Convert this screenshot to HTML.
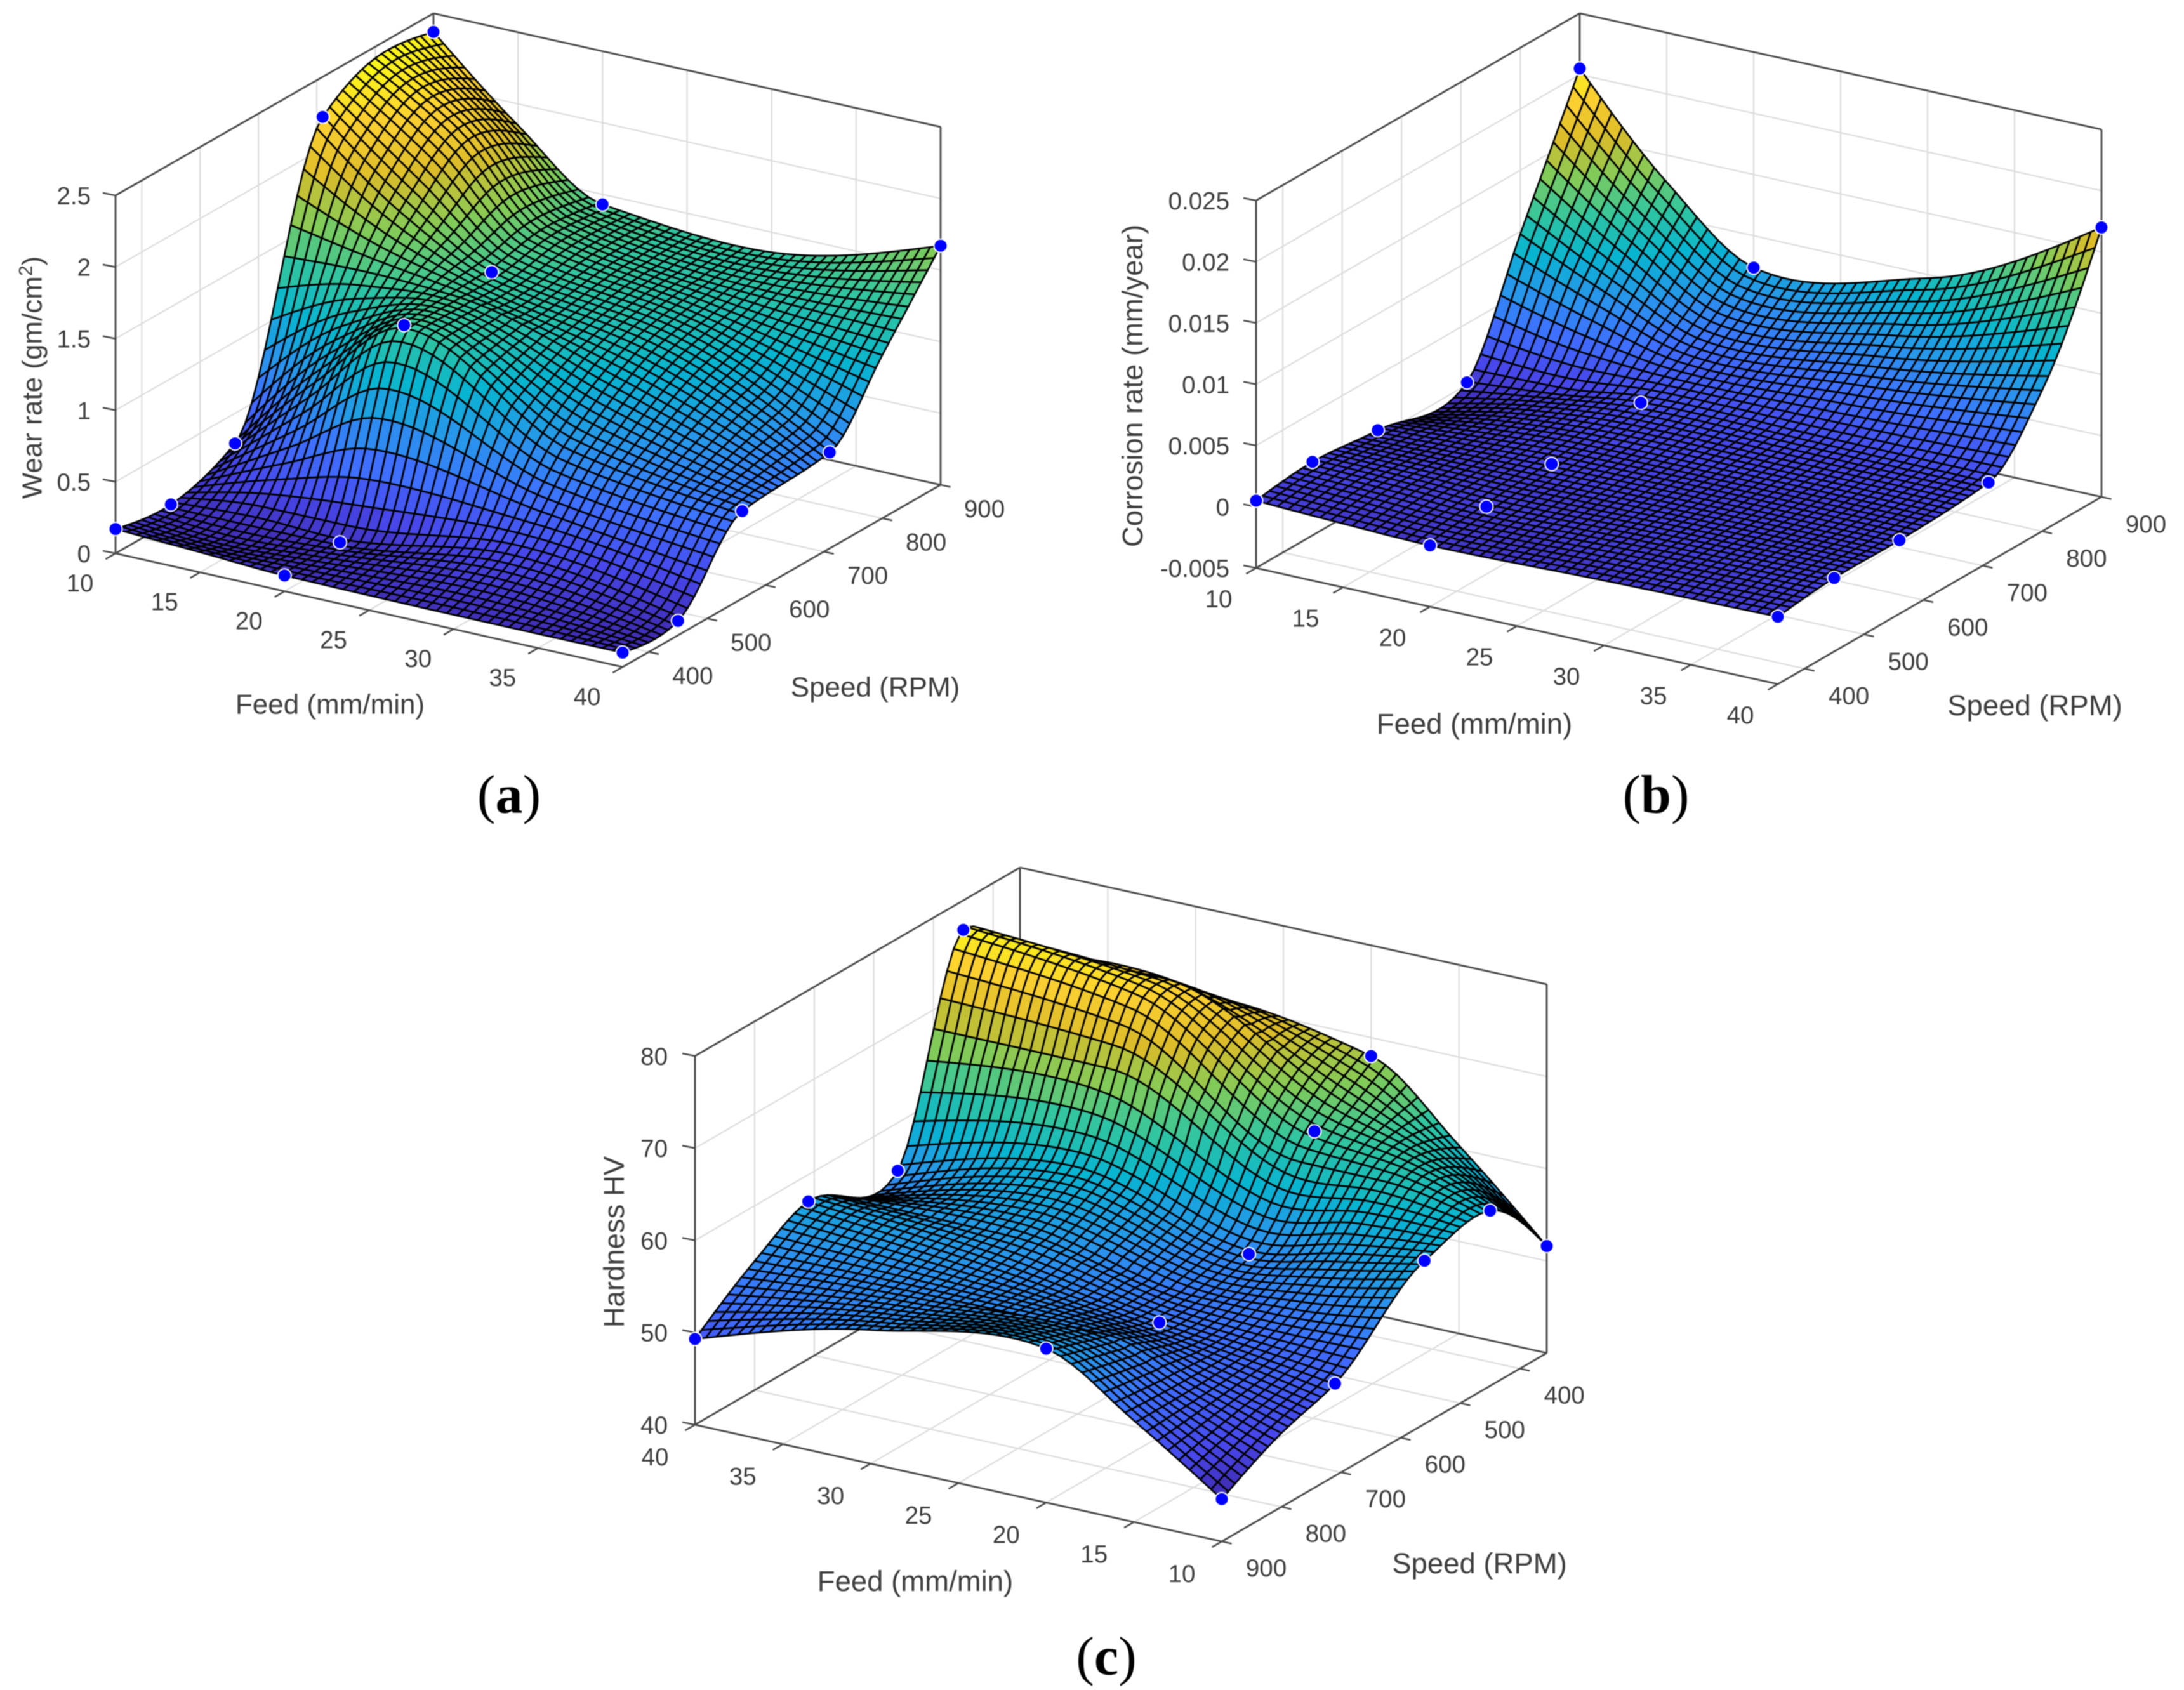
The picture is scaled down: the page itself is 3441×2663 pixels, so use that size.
<!DOCTYPE html>
<html lang="en">
<head>
<meta charset="utf-8">
<title>Wear rate, corrosion rate and hardness response surfaces</title>
<style>
html,body{margin:0;padding:0;background:#fff;}
svg{display:block;filter:blur(0.85px);}
text{font-family:"Liberation Sans",Arial,sans-serif;fill:#3d3d3d;}
.tick{font-size:38.5px;}
.axis{font-size:44px;}
.axis2{font-size:45.5px;}
.cap{font-family:"Liberation Serif","Times New Roman",serif;font-size:86px;fill:#000;}
</style>
</head>
<body>
<svg id="figure" xmlns="http://www.w3.org/2000/svg" width="3441" height="2663" viewBox="0 0 3441 2663">
  <rect x="0" y="0" width="3441" height="2663" fill="#fff"/>
  <g id="panel-a"></g>
  <g id="panel-b"></g>
  <g id="panel-c"></g>

  <text class="axis" transform="translate(50 595) rotate(-90)" text-anchor="middle" dy=".35em">Wear rate (gm/cm<tspan dy="-15" font-size="30">2</tspan><tspan dy="15">)</tspan></text>
  <text class="axis" x="520" y="1109" text-anchor="middle" dy=".35em">Feed (mm/min)</text>
  <text class="axis" x="1379" y="1082" text-anchor="middle" dy=".35em">Speed (RPM)</text>
  <text class="cap" x="802" y="1252" text-anchor="middle" dy=".33em">(<tspan font-weight="700">a</tspan>)</text>

  <text class="axis2" transform="translate(1784 608) rotate(-90)" text-anchor="middle" dy=".35em">Corrosion rate (mm/year)</text>
  <text class="axis2" x="2323" y="1140" text-anchor="middle" dy=".35em">Feed (mm/min)</text>
  <text class="axis2" x="3206" y="1111" text-anchor="middle" dy=".35em">Speed (RPM)</text>
  <text class="cap" x="2609" y="1252" text-anchor="middle" dy=".33em">(<tspan font-weight="700">b</tspan>)</text>

  <text class="axis2" transform="translate(967 1957) rotate(-90)" text-anchor="middle" dy=".35em">Hardness HV</text>
  <text class="axis2" x="1442" y="2491" text-anchor="middle" dy=".35em">Feed (mm/min)</text>
  <text class="axis2" x="2331" y="2463" text-anchor="middle" dy=".35em">Speed (RPM)</text>
  <text class="cap" x="1743" y="2610" text-anchor="middle" dy=".33em">(<tspan font-weight="700">c</tspan>)</text>
</svg>

<script>
// ---- chart data ----
// Measured points sit at feeds 10, 20, 40. Feeds 15 and 30 and speed 800 are extra
// surface heights read off the reference mesh.
const surfaceFeeds = [10, 15, 20, 30, 40];
const measuredFeedIndex = [0, 2, 4];
const speedLevels = [355, 450, 560, 710, 900];
const extraSpeed = 800;
const feedTicks = [10, 15, 20, 25, 30, 35, 40];
const speedTicks = [400, 500, 600, 700, 800, 900];

const wearTicks = [0, 0.5, 1, 1.5, 2, 2.5];
const wearTickLabels = ["0", "0.5", "1", "1.5", "2", "2.5"];
const wearAtFeed10 = [0.17, 0.12, 0.29, 2.22, 2.37];
const wearAtFeed15 = [0.14, 0.13, 0.90, 1.75, 1.85];
const wearAtFeed20 = [0.11, 0.12, 1.38, 1.40, 1.43];
const wearAtFeed30 = [0.10, 0.27, 0.80, 1.20, 1.36];
const wearAtFeed40 = [0.10, 0.10, 0.61, 0.67, 1.67];
const wearAtSpeed800 = [2.42, 2.05, 1.47, 1.28, 1.14];

const corrosionTicks = [-0.005, 0, 0.005, 0.01, 0.015, 0.02, 0.025];
const corrosionTickLabels = ["-0.005", "0", "0.005", "0.01", "0.015", "0.02", "0.025"];
const corrosionAtFeed10 = [0.0005, 0.001, 0.0005, 0.0002, 0.0205];
const corrosionAtFeed15 = [0.0002, 0.0008, 0.0007, 0.0008, 0.0128];
const corrosionAtFeed20 = [0, 0.0005, 0.0009, 0.0017, 0.0074];
const corrosionAtFeed30 = [0.0003, 0.0008, 0.001, 0.0016, 0.0097];
const corrosionAtFeed40 = [0.0005, 0.001, 0.001, 0.0015, 0.017];
const corrosionAtSpeed800 = [0.0098, 0.0065, 0.0037, 0.0045, 0.0065];

const hardnessTicks = [40, 50, 60, 70, 80];
const hardnessTickLabels = ["40", "50", "60", "70", "80"];
const hardnessAtFeed10 = [51.6, 59, 57.7, 50, 44.6];
const hardnessAtFeed15 = [60.4, 62, 56, 51.3, 51];
const hardnessAtFeed20 = [68, 63.4, 54.2, 52.4, 56.7];
const hardnessAtFeed30 = [70.5, 74.5, 59, 55.3, 54.5];
const hardnessAtFeed40 = [64, 76.8, 54.8, 57.1, 49.3];
const hardnessAtSpeed800 = [48, 51, 54.5, 54.5, 54];

const parulaAnchors = [
  [0.2422,0.1504,0.6603],[0.2803,0.2782,0.9221],[0.2440,0.4358,0.9988],[0.1540,0.5902,0.9218],
  [0.0297,0.7082,0.8163],[0.1938,0.7758,0.6251],[0.5044,0.7993,0.3480],[0.8634,0.7406,0.1596],
  [0.9892,0.8136,0.1885],[0.9769,0.9839,0.0805]
];

// ---- layout ----
const NS = "http://www.w3.org/2000/svg";
const MESH = 50;
const panels = [
  { id:"panel-a", A:[182,872], B:[981,1051], D:[683,585], H:564, reversed:false,
    series:[wearAtFeed10, wearAtFeed15, wearAtFeed20, wearAtFeed30, wearAtFeed40], extra:wearAtSpeed800,
    ticks:wearTicks, labels:wearTickLabels, clim:[0,2.45], zLabelX:143, xOff:[-56,46], yOff:[69,37] },
  { id:"panel-b", A:[1979,895], B:[2801,1078], D:[2489,600], H:579, reversed:false,
    series:[corrosionAtFeed10, corrosionAtFeed15, corrosionAtFeed20, corrosionAtFeed30, corrosionAtFeed40], extra:corrosionAtSpeed800,
    ticks:corrosionTicks, labels:corrosionTickLabels, clim:[-0.0013,0.021], zLabelX:1937, xOff:[-59,48], yOff:[70,42] },
  { id:"panel-c", A:[1095,2245], B:[1925,2429], D:[1607,1948], H:581, reversed:true,
    series:[hardnessAtFeed10, hardnessAtFeed15, hardnessAtFeed20, hardnessAtFeed30, hardnessAtFeed40], extra:hardnessAtSpeed800,
    ticks:hardnessTicks, labels:hardnessTickLabels, clim:[44,78], zLabelX:1052, xOff:[-63,50], yOff:[70,41] }
];

function parula(t) {
  t = Math.max(0, Math.min(1, t));
  t = Math.min(63, Math.floor(t * 64)) / 63;
  const p = t * (parulaAnchors.length - 1);
  const i = Math.min(parulaAnchors.length - 2, Math.floor(p));
  const f = p - i;
  const c = [0,1,2].map(k => Math.round(255 * (parulaAnchors[i][k] * (1 - f) + parulaAnchors[i + 1][k] * f)));
  return "rgb(" + c.join(",") + ")";
}

function hermite(xs, ys, ms, q) {
  let i = 0;
  while (i < xs.length - 2 && q > xs[i + 1]) i++;
  const h = xs[i + 1] - xs[i];
  const t = (q - xs[i]) / h;
  const t2 = t * t, t3 = t2 * t;
  return (2*t3 - 3*t2 + 1) * ys[i] + (t3 - 2*t2 + t) * h * ms[i] +
         (-2*t3 + 3*t2) * ys[i + 1] + (t3 - t2) * h * ms[i + 1];
}

// shape-preserving tangents, softened at local extremes
function smoothSlopes(xs, ys) {
  const n = xs.length, d = [], m = new Array(n).fill(0);
  for (let i = 0; i < n - 1; i++) d.push((ys[i + 1] - ys[i]) / (xs[i + 1] - xs[i]));
  for (let i = 1; i < n - 1; i++) {
    if (d[i - 1] * d[i] > 0) {
      const h0 = xs[i] - xs[i - 1], h1 = xs[i + 1] - xs[i];
      const w1 = 2 * h1 + h0, w2 = h1 + 2 * h0;
      m[i] = (w1 + w2) / (w1 / d[i - 1] + w2 / d[i]);
    } else {
      m[i] = (d[i - 1] + d[i]) * 0.4;
    }
  }
  m[0] = (3 * d[0] - m[1]) / 2;
  m[n - 1] = (3 * d[n - 2] - m[n - 2]) / 2;
  if (m[0] * d[0] < 0) m[0] = 0;
  if (m[n - 1] * d[n - 2] < 0) m[n - 1] = 0;
  return m;
}

function surfaceFn(panel) {
  const speeds = [speedLevels[0], speedLevels[1], speedLevels[2], speedLevels[3], extraSpeed, speedLevels[4]];
  const rows = panel.series.map((row, k) => [row[0], row[1], row[2], row[3], panel.extra[k], row[4]]);
  const slopes = rows.map(row => smoothSlopes(speeds, row));
  return function (feed, speed) {
    const atSpeed = rows.map((row, k) => hermite(speeds, row, slopes[k], speed));
    return hermite(surfaceFeeds, atSpeed, smoothSlopes(surfaceFeeds, atSpeed), feed);
  };
}

function drawPanel(panel) {
  const root = document.getElementById(panel.id);
  const zMin = panel.ticks[0], zMax = panel.ticks[panel.ticks.length - 1];
  const bdx = panel.B[0] - panel.A[0], bdy = panel.B[1] - panel.A[1];
  const ddx = panel.D[0] - panel.A[0], ddy = panel.D[1] - panel.A[1];

  const uOf = x => panel.reversed ? (40 - x) / 30 : (x - 10) / 30;
  const vOf = y => panel.reversed ? (900 - y) / 545 : (y - 355) / 545;
  const xOf = u => panel.reversed ? 40 - 30 * u : 10 + 30 * u;
  const yOf = v => panel.reversed ? 900 - 545 * v : 355 + 545 * v;
  const project = (u, v, z) => [
    panel.A[0] + bdx * u + ddx * v,
    panel.A[1] + bdy * u + ddy * v - (z - zMin) / (zMax - zMin) * panel.H
  ];
  const zAt = surfaceFn(panel);

  function seg(parent, p, q, color, width) {
    const el = document.createElementNS(NS, "line");
    el.setAttribute("x1", p[0].toFixed(1));
    el.setAttribute("y1", p[1].toFixed(1));
    el.setAttribute("x2", q[0].toFixed(1));
    el.setAttribute("y2", q[1].toFixed(1));
    el.setAttribute("stroke", color);
    el.setAttribute("stroke-width", width);
    parent.appendChild(el);
    return el;
  }
  function label(parent, x, y, str, anchor) {
    const el = document.createElementNS(NS, "text");
    el.setAttribute("class", "tick");
    el.setAttribute("x", x.toFixed(1));
    el.setAttribute("y", y.toFixed(1));
    el.setAttribute("dy", ".36em");
    el.setAttribute("text-anchor", anchor);
    el.textContent = str;
    parent.appendChild(el);
    return el;
  }
  function tag(el, name) {
    
    
  }

  // grid lines on the walls and floor
  const GRID = "#dcdcdc";
  const grid = document.createElementNS(NS, "g");
  
  
  root.appendChild(grid);
  panel.ticks.forEach(z => {
    tag(seg(grid, project(0,0,z), project(0,1,z), GRID, 2.2), "z-grid-line-side");
    tag(seg(grid, project(0,1,z), project(1,1,z), GRID, 2.2), "z-grid-line-back");
  });
  feedTicks.forEach(x => {
    const u = uOf(x);
    tag(seg(grid, project(u,0,zMin), project(u,1,zMin), GRID, 2.2), "feed-grid-line-floor");
    tag(seg(grid, project(u,1,zMin), project(u,1,zMax), GRID, 2.2), "feed-grid-line-back");
  });
  speedTicks.forEach(y => {
    const v = vOf(y);
    tag(seg(grid, project(0,v,zMin), project(1,v,zMin), GRID, 2.2), "speed-grid-line-floor");
    tag(seg(grid, project(0,v,zMin), project(0,v,zMax), GRID, 2.2), "speed-grid-line-side");
  });

  // box and axis rulers
  const BOX = "#484848";
  const box = document.createElementNS(NS, "g");
  
  
  root.appendChild(box);
  [[[0,0,zMin],[0,0,zMax]],[[0,0,zMax],[0,1,zMax]],[[0,1,zMax],[1,1,zMax]],[[1,1,zMax],[1,1,zMin]],
   [[0,1,zMin],[0,1,zMax]],[[0,0,zMin],[0,1,zMin]],[[0,1,zMin],[1,1,zMin]],
   [[0,0,zMin],[1,0,zMin]],[[1,0,zMin],[1,1,zMin]]].forEach(e => {
    tag(seg(box, project(...e[0]), project(...e[1]), BOX, 2.8), "axis-line");
  });

  // ticks and tick labels
  const ticks = document.createElementNS(NS, "g");
  
  
  root.appendChild(ticks);
  panel.ticks.forEach((z, i) => {
    const p = project(0,0,z);
    tag(seg(ticks, p, [p[0] - 20, p[1] - 4], BOX, 2.6), "z-tick");
    tag(label(ticks, panel.zLabelX, p[1], panel.labels[i], "end"), "z-tick-label");
  });
  feedTicks.forEach(x => {
    const p = project(uOf(x),0,zMin);
    tag(seg(ticks, p, [p[0] - 15.6, p[1] + 9], BOX, 2.6), "feed-tick");
    tag(label(ticks, p[0] + panel.xOff[0], p[1] + panel.xOff[1], String(x), "middle"), "feed-tick-label");
  });
  speedTicks.forEach(y => {
    const p = project(1,vOf(y),zMin);
    tag(seg(ticks, p, [p[0] + 15.6, p[1] + 3.5], BOX, 2.6), "speed-tick");
    tag(label(ticks, p[0] + panel.yOff[0], p[1] + panel.yOff[1], String(y), "middle"), "speed-tick-label");
  });

  // markers hidden by the surface go underneath it
  const under = document.createElementNS(NS, "g");
  
  
  root.appendChild(under);

  // surface mesh, far to near
  const surface = document.createElementNS(NS, "g");
  
  
  surface.setAttribute("stroke", "#000");
  surface.setAttribute("stroke-width", "2.7");
  surface.setAttribute("stroke-linejoin", "round");
  root.appendChild(surface);

  const nodes = [];
  for (let j = 0; j < MESH; j++) {
    const row = [];
    const v = j / (MESH - 1);
    for (let i = 0; i < MESH; i++) {
      const u = i / (MESH - 1);
      const z = zAt(xOf(u), yOf(v));
      row.push({ z: z, p: project(u, v, z) });
    }
    nodes.push(row);
  }
  const cSpan = panel.clim[1] - panel.clim[0];
  for (let j = MESH - 2; j >= 0; j--) {
    for (let i = 0; i < MESH - 1; i++) {
      const a = nodes[j][i], b = nodes[j][i + 1], c = nodes[j + 1][i + 1], d = nodes[j + 1][i];
      const mean = (a.z + b.z + c.z + d.z) / 4;
      const cell = document.createElementNS(NS, "polygon");
      cell.setAttribute("points", [a, b, c, d].map(n => n.p[0].toFixed(1) + "," + n.p[1].toFixed(1)).join(" "));
      cell.setAttribute("fill", parula((mean - panel.clim[0]) / cSpan));
      
      
      surface.appendChild(cell);
    }
  }

  // measured points
  const points = document.createElementNS(NS, "g");
  
  
  root.appendChild(points);

  function isOccluded(u0, v0, sy0) {
    const len = Math.hypot(bdx, ddx);
    for (let s = 0.02; s < 1.5; s += 0.02) {
      const u = u0 + s * ddx / len, v = v0 - s * bdx / len;
      if (u > 1 || v < 0) break;
      if (project(u, v, zAt(xOf(u), yOf(v)))[1] < sy0 - 14) return true;
    }
    return false;
  }

  measuredFeedIndex.forEach(k => {
    panel.series[k].forEach((z, m) => {
      const u = uOf(surfaceFeeds[k]), v = vOf(speedLevels[m]);
      const p = project(u, v, z);
      const dot = document.createElementNS(NS, "circle");
      dot.setAttribute("cx", p[0].toFixed(1));
      dot.setAttribute("cy", p[1].toFixed(1));
      dot.setAttribute("r", "10.5");
      dot.setAttribute("fill", "#0000ff");
      dot.setAttribute("stroke", "#fff");
      dot.setAttribute("stroke-width", "2");
      
      
      (isOccluded(u, v, p[1]) ? under : points).appendChild(dot);
    });
  });
}

panels.forEach(drawPanel);
</script>
</body>
</html>
